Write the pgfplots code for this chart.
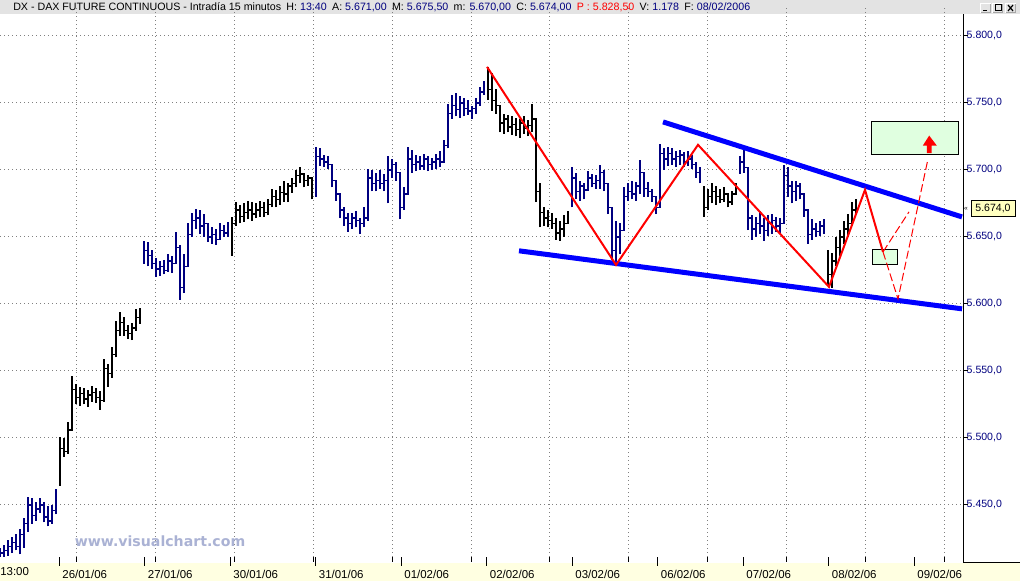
\documentclass[border=0pt]{standalone}
\usepackage{fontspec}
\setmainfont{Liberation Sans}
\newfontfamily\wmfont{DejaVu Sans}
\usepackage{pgfplots}
\usepackage{pgfplotstable}
\pgfplotsset{compat=1.18}

\definecolor{barnavy}{HTML}{000080}
\definecolor{titlegray}{HTML}{E3E3E3}
\definecolor{bandyellow}{HTML}{FFFFE1}
\definecolor{boxgreen}{HTML}{E0FFE0}
\definecolor{wmark}{HTML}{AAB2D4}
\definecolor{pricebox}{HTML}{FFFFC0}

% 15-minute bars, one row per bar: index, high, low, close
\pgfplotstableread{
i h l c
0 5418 5405 5414
1 5420 5408 5416
2 5424 5412 5419
3 5426 5414 5422
4 5428 5416 5419
5 5432 5413 5428
6 5440 5418 5436
7 5456 5430 5450
8 5455 5436 5442
9 5452 5438 5447
10 5455 5444 5450
11 5452 5437 5441
12 5449 5434 5438
13 5450 5436 5446
14 5462 5443 5458
}\segA
\pgfplotstableread{
i h l c
15 5501 5464 5492
16 5500 5486 5490
17 5512 5488 5506
18 5546 5506 5536
19 5540 5525 5530
20 5538 5524 5533
21 5537 5525 5529
22 5536 5523 5532
23 5539 5527 5534
24 5537 5526 5530
25 5535 5521 5528
26 5559 5527 5552
27 5555 5538 5548
28 5568 5545 5562
29 5587 5560 5580
30 5594 5576 5586
31 5590 5576 5580
32 5584 5574 5578
33 5586 5573 5582
34 5596 5580 5590
35 5597 5585 5590
}\segB
\pgfplotstableread{
i h l c
36 5647 5630 5640
37 5646 5628 5636
38 5640 5626 5630
39 5634 5620 5626
40 5632 5621 5628
41 5633 5622 5625
42 5637 5624 5632
43 5636 5623 5630
44 5654 5630 5642
45 5644 5603 5612
46 5637 5608 5628
47 5660 5630 5652
48 5668 5650 5662
49 5671 5656 5664
50 5670 5652 5658
51 5667 5650 5660
52 5660 5646 5650
53 5657 5645 5652
54 5656 5644 5648
55 5660 5648 5655
56 5659 5650 5653
57 5661 5650 5656
}\segC
\pgfplotstableread{
i h l c
58 5665 5636 5660
59 5676 5658 5670
60 5674 5660 5665
61 5675 5661 5668
62 5677 5663 5670
63 5676 5662 5667
64 5675 5664 5670
65 5677 5665 5672
66 5676 5665 5668
67 5678 5666 5674
68 5686 5672 5680
69 5685 5672 5678
70 5688 5674 5683
71 5692 5676 5682
72 5690 5676 5688
73 5694 5683 5690
74 5700 5687 5696
75 5702 5690 5697
76 5697 5687 5692
77 5696 5688 5694
78 5695 5678 5686
}\segD
\pgfplotstableread{
i h l c
79 5717 5680 5710
80 5716 5703 5708
81 5711 5702 5706
82 5710 5701 5704
83 5703 5687 5692
84 5690 5677 5682
85 5680 5664 5670
86 5672 5658 5664
87 5668 5654 5660
88 5668 5656 5664
89 5669 5657 5662
90 5664 5652 5660
91 5672 5657 5664
92 5701 5662 5694
93 5700 5684 5690
94 5698 5684 5692
95 5700 5686 5690
96 5697 5684 5692
97 5710 5675 5700
98 5708 5694 5704
99 5706 5692 5698
100 5697 5663 5672
101 5687 5670 5682
102 5717 5684 5708
103 5715 5698 5704
104 5711 5699 5706
105 5710 5700 5703
106 5712 5700 5708
107 5710 5699 5704
108 5709 5700 5706
109 5712 5701 5708
110 5714 5702 5706
111 5722 5706 5718
112 5749 5716 5742
113 5756 5738 5748
114 5757 5740 5745
115 5755 5739 5750
116 5754 5740 5746
117 5752 5741 5744
118 5748 5738 5746
119 5754 5742 5750
120 5762 5748 5758
121 5766 5756 5762
}\segE
\pgfplotstableread{
i h l c
122 5777 5752 5760
123 5772 5744 5752
124 5760 5742 5748
125 5743 5728 5735
126 5742 5727 5738
127 5741 5728 5732
128 5740 5726 5734
129 5739 5725 5730
130 5738 5724 5735
131 5740 5727 5731
132 5737 5725 5733
133 5749 5728 5738
134 5730 5676 5684
135 5690 5657 5668
136 5672 5658 5664
137 5670 5657 5662
138 5668 5656 5660
139 5664 5648 5653
140 5662 5647 5656
141 5666 5650 5660
142 5669 5660 5665
}\segF
\pgfplotstableread{
i h l c
143 5702 5672 5694
144 5698 5678 5684
145 5692 5677 5688
146 5690 5678 5685
147 5699 5686 5694
148 5697 5687 5690
149 5696 5686 5692
150 5704 5686 5698
151 5700 5684 5690
152 5690 5667 5672
153 5665 5633 5640
154 5662 5629 5650
155 5660 5637 5655
156 5687 5665 5680
157 5690 5677 5684
158 5692 5678 5682
159 5691 5677 5688
160 5707 5682 5698
161 5692 5680 5686
162 5691 5680 5684
163 5686 5676 5680
164 5677 5667 5672
165 5719 5697 5712
166 5716 5700 5708
167 5717 5703 5712
168 5716 5704 5708
169 5714 5702 5710
170 5715 5704 5711
171 5713 5702 5706
172 5714 5703 5708
173 5711 5701 5704
174 5706 5694 5698
175 5702 5690 5694
}\segG
\pgfplotstableread{
i h l c
176 5688 5665 5672
177 5686 5670 5680
178 5690 5675 5684
179 5688 5674 5680
180 5686 5675 5678
181 5687 5676 5682
182 5682 5672 5676
183 5684 5674 5682
184 5690 5682 5688
}\segH
\pgfplotstableread{
i h l c
185 5710 5697 5706
186 5715 5698 5702
187 5692 5655 5664
188 5666 5648 5656
189 5665 5650 5660
190 5669 5652 5658
191 5664 5647 5655
192 5666 5651 5660
193 5667 5652 5662
194 5665 5654 5658
195 5664 5652 5660
196 5704 5670 5696
197 5702 5680 5688
198 5692 5675 5684
199 5692 5677 5688
200 5690 5678 5682
201 5682 5665 5670
202 5665 5645 5652
203 5663 5648 5656
204 5660 5650 5654
205 5662 5651 5658
206 5663 5652 5656
}\segI
\pgfplotstableread{
i h l c
207 5640 5613 5622
208 5638 5612 5632
209 5650 5628 5642
210 5655 5636 5650
211 5662 5645 5656
212 5667 5650 5660
213 5676 5660 5670
214 5678 5666 5674
}\segJ

\newcommand{\ohlc}[2]{%
  \addplot[forget plot, draw=none, mark=none, error bars/.cd, y dir=plus, y explicit,
    error mark=none, error bar style={draw=#2, line width=1.1pt}]
    table[x=i, y=l, y error expr=\thisrow{h}-\thisrow{l}] {#1};
  \addplot[forget plot, #2, line width=1pt, const plot, mark=none] table[x=i, y=c] {#1};
}

\begin{document}
\begin{tikzpicture}[x=0.75pt, y=0.75pt]
\useasboundingbox (0,0) rectangle (1020,581);
\fill[white] (0,0) rectangle (1020,581);
\fill[titlegray] (0,567) rectangle (1020,581);
\fill[bandyellow] (0,0) rectangle (1020,18);

\begin{axis}[
  at={(0,18)}, anchor=south west, scale only axis,
  width=722.25pt, height=411.75pt,
  xmin=0, xmax=240.75, ymin=5411.2, ymax=5820.9,
  axis line style={draw=none},
  tick align=outside, xtick pos=bottom, ytick pos=right,
  major tick length=3.75pt,
  tick style={black, line width=0.75pt},
  xtick={19,38.75,58.5,78.25,98,117.75,137.25,157,176.75,196.5,216.25,236},
  xticklabels={},
  ytick={5450,5500,5550,5600,5650,5700,5750,5800},
  yticklabels={{5.450,0},{5.500,0},{5.550,0},{5.600,0},{5.650,0},{5.700,0},{5.750,0},{5.800,0}},
  yticklabel style={text=barnavy, font=\fontsize{7.9}{9}\selectfont, anchor=west, xshift=-4.5pt},
  xmajorgrids, ymajorgrids,
  major grid style={gray, line width=0.75pt, dash pattern=on 0.75pt off 2.25pt},
  extra x ticks={14.75,36.125,57.5,78.875,100.25,121.625,143,164.375,185.75,207.125,228.5},
  extra x tick labels={26/01/06,27/01/06,30/01/06,31/01/06,01/02/06,02/02/06,03/02/06,06/02/06,07/02/06,08/02/06,09/02/06},
  extra x tick style={grid=none, major tick length=6.75pt,
    xticklabel style={anchor=north west, font=\fontsize{8.6}{10}\selectfont, xshift=-1pt}},
]
\ohlc{\segA}{barnavy}
\ohlc{\segB}{black}
\ohlc{\segC}{barnavy}
\ohlc{\segD}{black}
\ohlc{\segE}{barnavy}
\ohlc{\segF}{black}
\ohlc{\segG}{barnavy}
\ohlc{\segH}{black}
\ohlc{\segI}{barnavy}
\ohlc{\segJ}{black}

% target boxes
\addplot[forget plot, fill=boxgreen, draw=black, line width=0.75pt] coordinates {(217.75,5711.2) (239.5,5711.2) (239.5,5735.8) (217.75,5735.8)} -- cycle;
\addplot[forget plot, fill=boxgreen, draw=black, line width=0.75pt] coordinates {(218,5629.1) (224.25,5629.1) (224.25,5640.3) (218,5640.3)} -- cycle;

% channel
\addplot[forget plot, blue, line width=3.75pt] coordinates {(165.75,5735.8) (240.5,5664.9)};
\addplot[forget plot, blue, line width=3.75pt] coordinates {(129.75,5639.6) (240.5,5596.3)};

% zigzag
\addplot[forget plot, red, line width=1.5pt] coordinates {(121.75,5776.9) (154,5629.1) (174.5,5718.7) (207.25,5612.7) (216.25,5685.1) (220.75,5638.8)};
\addplot[forget plot, red, line width=0.75pt, dash pattern=on 6pt off 2.5pt] coordinates {(220.75,5638.8) (224.5,5603.7) (232,5708.2)};
\addplot[forget plot, red, line width=0.75pt, dash pattern=on 6pt off 2.5pt] coordinates {(220.75,5638.8) (227.25,5668.7)};
\addplot[forget plot, fill=red, draw=none] coordinates {(231.7,5712.5) (231.7,5718.1) (230.7,5718.1) (232.3,5725.6) (234.2,5718.1) (232.9,5718.1) (232.9,5712.5)} -- cycle;

\node[font=\wmfont\bfseries\fontsize{10.6}{12}\selectfont, text=wmark] at (axis cs:40,5423) {www.visualchart.com};
\end{axis}

% right price panel
\draw[black, line width=0.75pt] (963.5,18) -- (963.5,567);
\draw[black, line width=0.75pt] (963,18) -- (1020,18);
\draw[fill=pricebox, draw=black, line width=0.75pt] (971,364) rectangle (1015,380);
\node[font=\fontsize{7.9}{9}\selectfont, inner sep=0pt] at (993,372) {5.674,0};
\node[font=\fontsize{5}{6}\selectfont, inner sep=0pt] at (966,372) {«};

\node[anchor=west, inner sep=0pt, font=\fontsize{8.6}{10}\selectfont] at (0,9) {13:00};

% title bar
\node[anchor=west, inner sep=0pt, font=\fontsize{8}{9.6}\selectfont] at (13,574) {DX - DAX FUTURE CONTINUOUS - Intradía 15 minutos\hspace{0.5em}H: \textcolor{barnavy}{13:40}\hspace{0.5em}A: \textcolor{barnavy}{5.671,00}\hspace{0.5em}M: \textcolor{barnavy}{5.675,50}\hspace{0.5em}m: \textcolor{barnavy}{5.670,00}\hspace{0.5em}C: \textcolor{barnavy}{5.674,00}\hspace{0.5em}\textcolor{red}{P : 5.828,50}\hspace{0.5em}V: \textcolor{barnavy}{1.178}\hspace{0.5em}F: \textcolor{barnavy}{08/02/2006}};

% window buttons
\foreach \bx in {980,992,1005} {
  \fill[white] (\bx,568) rectangle (\bx+11,578);
  \fill[gray!70] (\bx+1,568) rectangle (\bx+11,577);
  \fill[titlegray] (\bx+1,569) rectangle (\bx+10,577);
}
\draw[black, line width=1pt] (983,570.5) -- (987,570.5);
\draw[black, line width=0.75pt] (995,570) rectangle (1001,576);
\draw[black, line width=0.9pt] (1008,570) -- (1013,576) (1008,576) -- (1013,570);
\end{tikzpicture}
\end{document}
